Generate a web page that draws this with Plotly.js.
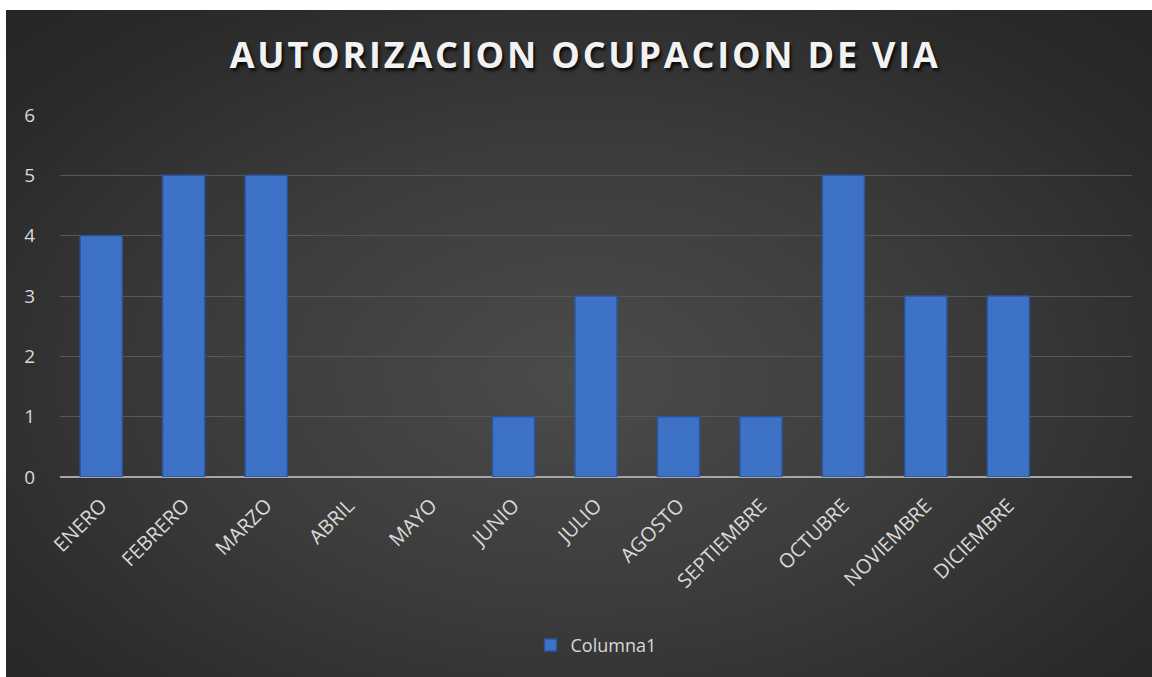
<!DOCTYPE html>
<html>
<head>
<meta charset="utf-8">
<script src="https://cdn.plot.ly/plotly-3.0.1.min.js"></script>
<style>
  html, body { margin: 0; padding: 0; background: #ffffff; }
  #wrap { position: relative; width: 1152px; height: 677px; background: #ffffff; overflow: hidden; }
  #bg { position: absolute; left: 6px; top: 10px; width: 1146px; height: 667px;
        background: radial-gradient(ellipse 70% 75% at 50% 55%, #4b4b4b 0%, #3c3c3c 45%, #2a2a2a 85%, #262626 100%); }
  #chart { position: absolute; left: 0; top: 0; width: 1152px; height: 677px; }
  #chart .gtitle { letter-spacing: 2.8px; }
</style>
</head>
<body>
<div id="wrap">
  <div id="bg"></div>
  <div id="chart"></div>
</div>
<script>
const months = ["ENERO", "FEBRERO", "MARZO", "ABRIL", "MAYO", "JUNIO", "JULIO",
                "AGOSTO", "SEPTIEMBRE", "OCTUBRE", "NOVIEMBRE", "DICIEMBRE"];
const columna1 = [4, 5, 5, 0, 0, 1, 3, 1, 1, 5, 3, 3];
const seriesName = "Columna1";
const yTicks = [0, 1, 2, 3, 4, 5, 6];
const chartTitle = "AUTORIZACION OCUPACION DE VIA";

const trace = {
  type: "bar",
  x: months,
  y: columna1,
  name: seriesName,
  marker: {
    color: "#3d72c6",
    line: { color: "#2b579e", width: columna1.map(v => v === 0 ? 0 : 1.5) }
  },
  hoverinfo: "x+y"
};

const layout = {
  width: 1152,
  height: 677,
  paper_bgcolor: "rgba(0,0,0,0)",
  plot_bgcolor: "rgba(0,0,0,0)",
  margin: { l: 60, r: 20, t: 115, b: 200 },
  bargap: 0.49,
  title: {
    text: chartTitle,
    x: 0.508, xanchor: "center",
    y: 0.918, yanchor: "middle",
    font: { family: "Open Sans, sans-serif", size: 36, color: "#f2f2f2", weight: 700,
            shadow: "2px 3px 3px rgba(0,0,0,0.75)" }
  },
  xaxis: {
    type: "category",
    range: [-0.5, 12.5],
    tickangle: -45,
    tickfont: { family: "Open Sans, sans-serif", size: 20, color: "#d9d9d9" },
    showgrid: false,
    showline: false,
    zeroline: false,
    ticks: "",
    ticklabelstandoff: 12,
    fixedrange: true
  },
  yaxis: {
    range: [0, 6],
    tickvals: yTicks,
    ticktext: yTicks.map(String),
    tickfont: { family: "Open Sans, sans-serif", size: 19, color: "#d9d9d9" },
    gridcolor: "#575757",
    gridwidth: 1,
    zeroline: true,
    zerolinecolor: "#a6a6a6",
    zerolinewidth: 2,
    showline: false,
    ticks: "",
    ticklabelstandoff: 24,
    fixedrange: true
  },
  showlegend: true,
  legend: {
    orientation: "h",
    x: 0.5, xanchor: "center",
    y: -0.465, yanchor: "middle",
    itemwidth: 30,
    font: { family: "Open Sans, sans-serif", size: 18, color: "#d9d9d9" },
    bgcolor: "rgba(0,0,0,0)"
  }
};

Plotly.newPlot("chart", [trace], layout, { displayModeBar: false, staticPlot: true });
</script>
</body>
</html>
